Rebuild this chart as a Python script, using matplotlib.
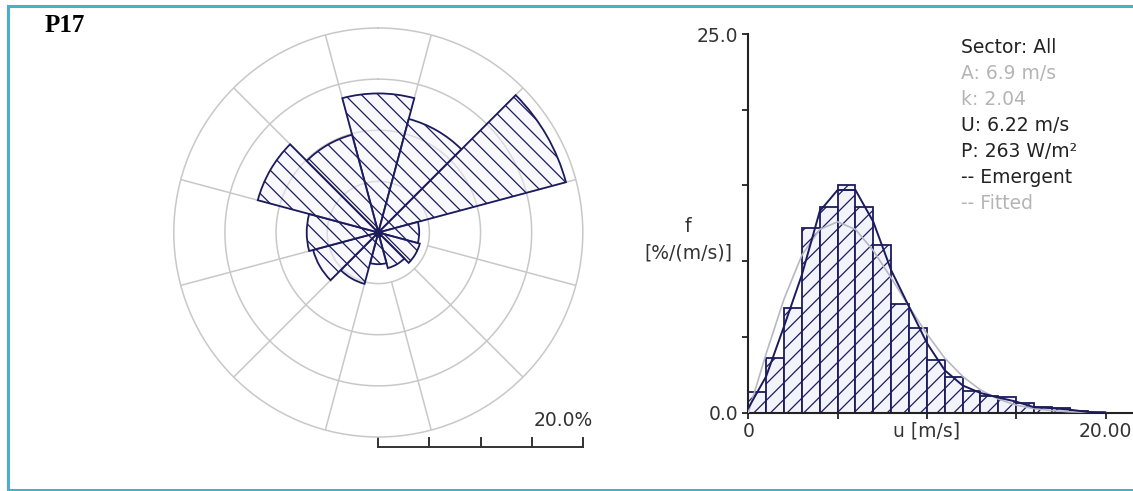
import numpy as np
import matplotlib
matplotlib.use('Agg')
import matplotlib.pyplot as plt
from matplotlib.lines import Line2D

plt.rcParams['font.family'] = 'DejaVu Sans'
plt.rcParams['hatch.linewidth'] = 0.9

# wind rose: frequency per 30 deg sector [%]
sector_deg = [0, 30, 60, 90, 120, 150, 180, 210, 240, 270, 300, 330]
sector_freq = [13.6, 11.5, 19.0, 4.0, 4.2, 3.6, 3.1, 5.2, 6.6, 7.0, 12.2, 9.9]
rose_rings = [5, 10, 15, 20]

# histogram of wind speed, 1 m/s bins [%/(m/s)]
bin_left = list(range(20))
bin_freq = [1.35, 3.6, 6.9, 12.2, 13.6, 15.0, 13.6, 11.1, 7.2, 5.6,
            3.5, 2.35, 1.4, 1.1, 1.05, 0.66, 0.36, 0.29, 0.13, 0.05]
# emergent and fitted curves read at integer speeds
curve_u = list(range(21))
emergent = [0.3, 2.4, 5.7, 9.1, 13.3, 14.7, 14.7, 12.6, 9.4, 7.0,
            4.6, 2.8, 1.8, 1.3, 1.0, 0.73, 0.36, 0.3, 0.2, 0.05, 0.0]
fitted = [0.0, 3.9, 7.5, 10.4, 12.1, 12.6, 12.1, 10.7, 8.9, 7.0,
          5.2, 3.6, 2.4, 1.5, 0.9, 0.5, 0.27, 0.14, 0.06, 0.03, 0.01]

info_lines = ['Sector: All', 'A: 6.9 m/s', 'k: 2.04', 'U: 6.22 m/s',
              'P: 263 W/m\u00b2', '-- Emergent', '-- Fitted']
info_gray = [False, True, True, False, False, False, True]

W, H = 1133, 491
navy = '#1b1b5e'
fill = '#f3f3fb'
grid_c = '#c8c8c8'
dark = '#222222'
light = '#b5b5b5'
fs = 13.5

fig = plt.figure(figsize=(W / 100, H / 100), dpi=100)

def fx(px):
    return px / W

def fy(py):
    return 1 - py / H

# frame
frame_c = '#4aafc8'
for xs, ys in [([7.5, W], [5.5, 5.5]), ([7.5, 7.5], [5.5, 490]), ([7.5, W], [490, 490])]:
    fig.add_artist(Line2D([fx(x) for x in xs], [fy(y) for y in ys], color=frame_c, lw=2.2))

fig.text(fx(45), fy(25), 'P17', family='Liberation Serif', weight='bold',
         fontsize=18, ha='left', va='center', color='black')

# ---- wind rose ----
cx, cy, R = 378.3, 232.5, 204.5
ax = fig.add_axes([fx(cx - R), fy(cy + R), 2 * R / W, 2 * R / H], projection='polar')
ax.set_theta_zero_location('N')
ax.set_theta_direction(-1)
ax.set_ylim(0, 20)
ax.set_xticks([])
ax.set_yticks([])
ax.grid(False)
ax.spines['polar'].set_color(grid_c)
ax.spines['polar'].set_linewidth(1.1)
tt = np.linspace(0, 2 * np.pi, 361)
for r in rose_rings[:-1]:
    ax.plot(tt, np.full_like(tt, r), color=grid_c, lw=1.1, zorder=1)
for a in np.arange(15, 360, 30):
    ax.plot([np.radians(a)] * 2, [rose_rings[0], rose_rings[-1]], color=grid_c, lw=1.1, zorder=1)
ax.bar(np.radians(sector_deg), sector_freq, width=np.radians(30), bottom=0,
       facecolor=(0.95, 0.95, 0.99, 0.45), edgecolor=navy, hatch='\\\\', lw=1.3, zorder=2)
ax.plot([0], [0], 'o', color=navy, ms=5, zorder=3)

# scale bar
yb = -9.7 / (2 * R)
ax.plot([0.5, 1.0], [yb, yb], color='#333333', lw=1.4, transform=ax.transAxes, clip_on=False)
for i in range(5):
    xt = 0.5 + 0.125 * i
    ax.plot([xt, xt], [yb, yb + 9 / (2 * R)], color='#333333', lw=1.4,
            transform=ax.transAxes, clip_on=False)
ax.text(1.0 + 10 / (2 * R), 16 / (2 * R), '20.0%', transform=ax.transAxes,
        ha='right', va='center', fontsize=fs, color='#333333')

# ---- histogram ----
x0, y0, y25 = 748.3, 412.7, 34.0
hx = fig.add_axes([fx(x0), fy(y0), (W - x0) / W, (y0 - y25) / H])
hx.set_xlim(0, (W - x0) / 17.86)
hx.set_ylim(0, 25)
hx.bar(bin_left, bin_freq, width=1.0, align='edge', facecolor=fill,
       edgecolor=navy, hatch='//', lw=1.3, zorder=2)
hx.plot(curve_u, fitted, color='#b8b8c4', lw=1.2, zorder=3)
hx.plot(curve_u, emergent, color=navy, lw=1.4, zorder=4)
for s in ['top', 'right']:
    hx.spines[s].set_visible(False)
for s in ['left', 'bottom']:
    hx.spines[s].set_color(dark)
    hx.spines[s].set_linewidth(1.5)
hx.set_yticks([0, 5, 10, 15, 20, 25])
hx.set_yticklabels(['0.0', '', '', '', '', '25.0'])
hx.set_xticks([0, 5, 10, 15, 20])
hx.set_xticklabels(['0', '', '', '', '20.00'])
hx.tick_params(direction='out', length=4, width=1.3, color=dark,
               labelsize=fs, labelcolor='#333333', pad=3)
hx.annotate('u [m/s]', xy=(10, 0), xycoords=('data', 'axes fraction'),
            xytext=(0, -6.5), textcoords='offset points', ha='center', va='top',
            fontsize=fs, color='#333333', annotation_clip=False)

fig.text(fx(688), fy(226), 'f', ha='center', va='center', fontsize=fs, color='#333333')
fig.text(fx(688), fy(253), '[%/(m/s)]', ha='center', va='center', fontsize=fs, color='#333333')

for i, (t, g) in enumerate(zip(info_lines, info_gray)):
    fig.text(fx(961), fy(47.5 + 26 * i), t, ha='left', va='center', fontsize=fs,
             color=light if g else dark)

fig.savefig('out.png', dpi=100)
